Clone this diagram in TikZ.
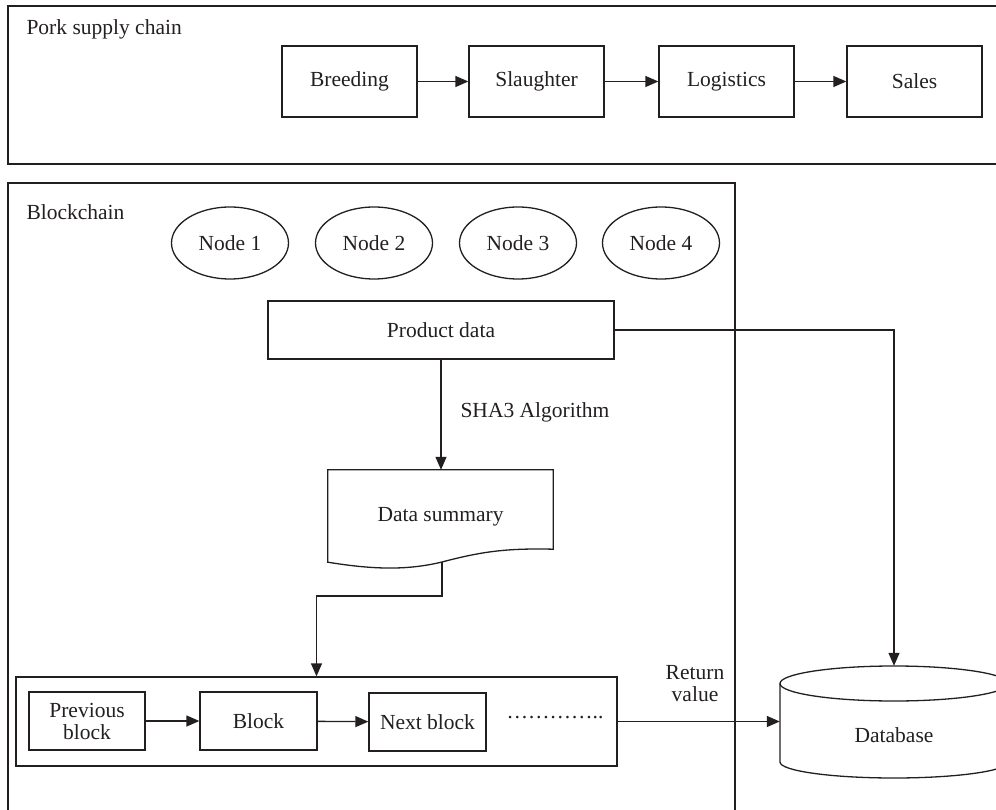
\documentclass[tikz,border=0pt]{standalone}
\usepackage{fontspec}
\setmainfont{Liberation Serif}
\usetikzlibrary{arrows.meta,shapes.geometric}
\definecolor{ink}{HTML}{231F20}
\begin{document}
\begin{tikzpicture}[x=1pt,y=-1pt,
  every node/.style={font=\fontsize{21.5}{23}\selectfont, text=ink},
  line/.style={draw=ink, line width=1.3pt},
  box/.style={line, rectangle, inner sep=0pt},
  oval/.style={line, ellipse, inner sep=0pt, minimum width=117, minimum height=72},
  arr/.style={line, -{Triangle[length=13pt,width=11pt]}}]
\useasboundingbox (0,0) rectangle (996,810);

% outer frames
\draw[line] (1002,6) -- (8,6) -- (8,164) -- (1002,164);
\draw[line] (8,816) -- (8,183) -- (735,183) -- (735,816);
\node[anchor=base west] (lblpork) at (23,35) {Pork supply chain};
\node[anchor=base west] (lblbc) at (23,220) {Blockchain};

% supply chain
\node[box, minimum width=135, minimum height=71] (breed) at (349.5,81.5) {Breeding};
\node[box, minimum width=135, minimum height=71] (slau) at (536.5,81.5) {Slaughter};
\node[box, minimum width=135, minimum height=71] (logi) at (726.5,81.5) {Logistics};
\node[box, minimum width=135, minimum height=71] (sales) at (914.5,81.5) {Sales};
\draw[arr] (breed) -- (slau);
\draw[arr] (slau) -- (logi);
\draw[arr] (logi) -- (sales);

% blockchain nodes
\node[oval] (n1) at (230,243) {Node 1};
\node[oval] (n2) at (374,243) {Node 2};
\node[oval] (n3) at (518,243) {Node 3};
\node[oval] (n4) at (661,243) {Node 4};

% product data
\node[box, minimum width=346, minimum height=58] (pd) at (441,330) {Product data};

% data summary (document shape)
\node[inner sep=0pt, minimum width=225, minimum height=92] (ds) at (440.5,516) {};
\node (dst) at (440.5,517) {Data summary};
\draw[line] (ds.south west) -- (ds.north west) -- (ds.north east) -- ([yshift=13pt]ds.south east)
  .. controls (505,548) and (480,552) .. (442,562)
  .. controls (405,571) and (370,569) .. (ds.south west) -- cycle;
\coordinate (dsb) at (442,562);

\draw[arr] (pd.south) -- (pd.south |- ds.north);
\node[anchor=west] (sha) at (457,412) {SHA3 Algorithm};

% chain of blocks
\node[box, minimum width=601, minimum height=89] (chain) at (316.5,721.5) {};
\node[box, minimum width=116, minimum height=58, align=center, font=\fontsize{21.5}{22}\selectfont] (prev) at (87,721) {Previous\\block};
\node[box, minimum width=117, minimum height=58] (blk) at (258.5,721) {Block};
\node[box, minimum width=117, minimum height=58] (next) at (427.5,722) {Next block};
\node (dots) at (555,718) {…………..};
\draw[arr] (prev) -- (blk);
\draw[arr] (blk) -- (next);

\draw[arr] (dsb) -- (442,596) -| (chain.north);

% database
\node[inner sep=0pt, minimum width=228, minimum height=112] (db) at (894,722) {};
\node (dbl) at (894,735) {Database};
\draw[line] (894,683.5) ellipse [x radius=114, y radius=17.5];
\draw[line] (780,683.5) -- (780,762) arc[start angle=180, end angle=0, x radius=114, y radius=16] -- (1008,683.5);

\draw[arr] (pd.east) -| (db.north);
\draw[arr] (chain.east) -- (chain.east -| db.west);
\node[align=center, font=\fontsize{21.5}{22}\selectfont] (rv) at (695,684) {Return\\value};
\end{tikzpicture}
\end{document}
